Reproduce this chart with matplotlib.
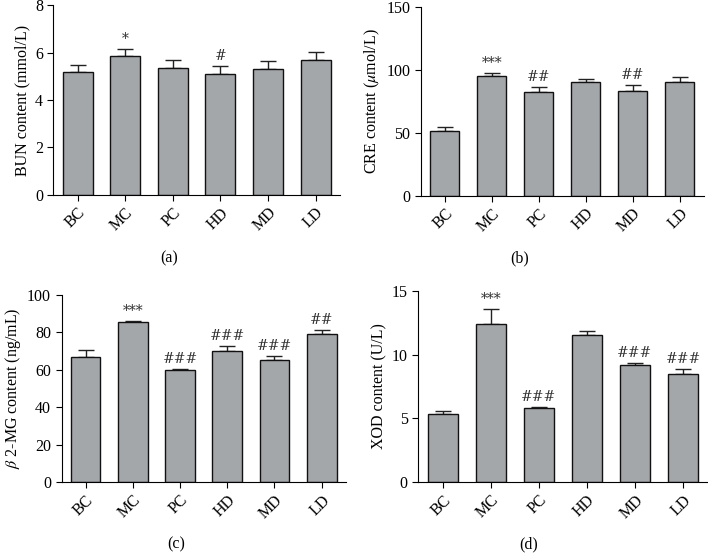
import matplotlib
matplotlib.use("Agg")
import matplotlib.pyplot as plt
import numpy as np

# ── data ──────────────────────────────────────────────────────────────────────
GROUPS = ["BC", "MC", "PC", "HD", "MD", "LD"]

BUN_MEAN = [5.17, 5.85, 5.33, 5.09, 5.31, 5.68]
BUN_ERR  = [0.32, 0.30, 0.34, 0.34, 0.32, 0.36]
BUN_SIG  = ["", "*", "", "#", "", ""]

CRE_MEAN = [51.3, 94.7, 82.5, 90.2, 83.1, 90.5]
CRE_ERR  = [3.2, 2.9, 4.0, 2.1, 4.7, 3.9]
CRE_SIG  = ["", "***", "##", "", "##", ""]

B2MG_MEAN = [66.8, 85.3, 59.7, 70.2, 65.2, 79.1]
B2MG_ERR  = [4.0, 0.9, 0.7, 2.7, 2.2, 2.3]
B2MG_SIG  = ["", "***", "###", "###", "###", "##"]

XOD_MEAN = [5.35, 12.40, 5.80, 11.54, 9.19, 8.51]
XOD_ERR  = [0.26, 1.20, 0.10, 0.34, 0.13, 0.39]
XOD_SIG  = ["", "***", "###", "", "###", "###"]

# ── style ─────────────────────────────────────────────────────────────────────
plt.rcParams["font.family"] = ["Liberation Serif", "DejaVu Serif"]
plt.rcParams["mathtext.fontset"] = "stix"

BAR_COLOR = "#a4a7aa"
FONT = 11.5

PANELS = [
    # (mean, err, sig, ylabel, yticks, rect, letter, letter_xy)
    (BUN_MEAN, BUN_ERR, BUN_SIG, "BUN content (mmol/L)", [0, 2, 4, 6, 8],
     [0.0753, 0.6493, 0.4047, 0.3417], "(a)", (0.239, 0.536)),
    (CRE_MEAN, CRE_ERR, CRE_SIG, r"CRE content ($\mu$mol/L)", [0, 50, 100, 150],
     [0.5942, 0.6480, 0.3996, 0.3400], "(b)", (0.734, 0.536)),
    (B2MG_MEAN, B2MG_ERR, B2MG_SIG, r"$\beta$ 2-MG content (ng/mL)", [0, 20, 40, 60, 80, 100],
     [0.0869, 0.1326, 0.4014, 0.3372], "(c)", (0.2495, 0.020)),
    (XOD_MEAN, XOD_ERR, XOD_SIG, "XOD content (U/L)", [0, 5, 10, 15],
     [0.5908, 0.1326, 0.4085, 0.3446], "(d)", (0.747, 0.020)),
]


def draw_panel(ax, mean, err, sig, ylabel, yticks):
    x = np.arange(len(GROUPS))
    ax.bar(x, mean, width=0.63, color=BAR_COLOR, edgecolor="#111111",
           linewidth=1.0, zorder=2)
    ax.errorbar(x, mean, yerr=[np.zeros(len(err)), err], fmt="none",
                ecolor="#222222", elinewidth=1.0, capsize=5.5, capthick=1.0,
                zorder=1)
    for xi, m, e, s in zip(x, mean, err, sig):
        if s:
            ax.annotate(s, (xi, m + e), xytext=(0, 2), textcoords="offset points",
                        ha="center", va="bottom", fontsize=FONT - 1.5,
                        family="DejaVu Serif", color="#333333")

    ax.set_xlim(-0.51, len(GROUPS) - 0.49)
    ax.set_ylim(0, yticks[-1])
    ax.set_yticks(yticks)
    ax.set_xticks(x)
    ax.set_xticklabels(GROUPS, rotation=45, ha="right", va="top",
                       rotation_mode="anchor")
    ax.set_ylabel(ylabel, fontsize=FONT, labelpad=3)
    ax.tick_params(labelsize=FONT, length=4, width=0.8, direction="out")
    ax.tick_params(axis="x", pad=3)
    for side in ["top", "right"]:
        ax.spines[side].set_visible(False)
    for side in ["left", "bottom"]:
        ax.spines[side].set_linewidth(0.8)


fig = plt.figure(figsize=(7.08, 5.56), dpi=100)

for mean, err, sig, ylabel, yticks, rect, letter, lxy in PANELS:
    ax = fig.add_axes(rect)
    draw_panel(ax, mean, err, sig, ylabel, yticks)
    fig.text(lxy[0], lxy[1], letter, ha="center", va="center", fontsize=FONT)

fig.savefig("out.png", dpi=100)
